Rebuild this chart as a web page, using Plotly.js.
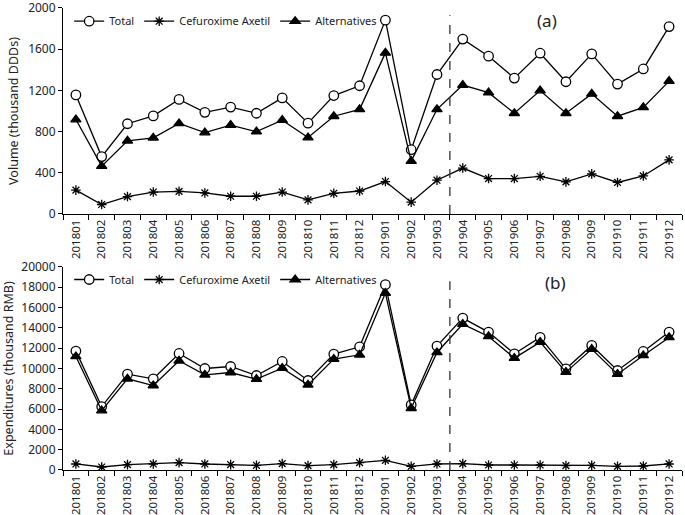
<!DOCTYPE html>
<html><head><meta charset="utf-8">
<script src="https://cdn.plot.ly/plotly-3.0.1.min.js"></script>
<style>body{margin:0;padding:0;background:#fff}#c{width:685px;height:515px}</style>
</head><body><div id="c"></div>
<script>
const months = ["201801","201802","201803","201804","201805","201806","201807","201808","201809","201810","201811","201812",
"201901","201902","201903","201904","201905","201906","201907","201908","201909","201910","201911","201912"];
const volTotal = [1156,557,876,952,1112,987,1038,978,1127,882,1150,1245,1882,624,1354,1698,1532,1319,1561,1284,1554,1261,1408,1819];
const volCef = [232,92,169,213,220,204,172,172,213,137,201,223,315,115,328,446,344,344,366,312,389,306,369,525];
const volAlt = [917,465,710,739,879,790,863,799,911,742,949,1016,1564,513,1016,1252,1178,978,1198,978,1166,949,1035,1290];
const expTotal = [11711,6250,9441,8980,11480,10000,10197,9310,10691,8816,11414,12138,18257,6414,12204,14967,13586,11447,13059,9967,12270,9803,11678,13586];
const expCef = [592,296,526,592,724,592,526,461,625,428,526,724,954,362,592,625,493,493,493,428,461,362,395,592];
const expAlt = [11184,5855,8980,8322,10757,9375,9605,8947,10033,8388,10921,11349,17434,6085,11579,14375,13158,11020,12599,9638,11908,9441,11283,13059];
const seriesNames = ["Total","Cefuroxime Axetil","Alternatives"];

const FONT = "Noto Sans, DejaVu Sans, sans-serif";
function mk(y, name, sym, xa, ya, leg){
  return {x: months, y: y, name: name, type:'scatter', mode:'lines+markers', xaxis:xa, yaxis:ya, legend:leg,
    line:{color:'#000', width:1.3},
    marker:{symbol:sym, size:(sym==='circle'?9.5:(sym==='asterisk-open'?8:9)), color: sym==='circle'?'#fff':'#000',
      line:{color:'#000', width:1.3}}};
}
const data = [
  mk(volTotal, seriesNames[0], 'circle', 'x','y','legend'),
  mk(volCef, seriesNames[1], 'asterisk-open', 'x','y','legend'),
  mk(volAlt, seriesNames[2], 'triangle-up', 'x','y','legend'),
  mk(expTotal, seriesNames[0], 'circle', 'x2','y2','legend2'),
  mk(expCef, seriesNames[1], 'asterisk-open', 'x2','y2','legend2'),
  mk(expAlt, seriesNames[2], 'triangle-up', 'x2','y2','legend2')
];

const xax = (anchor)=>({domain:[0,1], anchor:anchor, type:'category', tickangle:-90, showline:true, linecolor:'#000', linewidth:1,
  ticks:'outside', tickson:'boundaries', ticklen:5, tickcolor:'#000', showgrid:false, zeroline:false,
  tickfont:{family:FONT, size:11.5, color:'#222'}, range:[-0.5,23.5]});
const yax = (dom, anchor, rng, dt, title)=>({domain:dom, anchor:anchor, range:rng, dtick:dt, tickformat:'d', showline:true, linecolor:'#000', linewidth:1,
  ticks:'outside', ticklen:4, tickcolor:'#000', showgrid:false, zeroline:false, ticklabeloverflow:'allow',
  tickfont:{family:FONT, size:12, color:'#222'}, title:{text:title, font:{family:FONT, size:12.5, color:'#222'}, standoff:6}});

const legFont = {family:FONT, size:11, color:'#222'};
const layout = {
  width:685, height:515, margin:{l:63, r:3, t:0, b:0}, paper_bgcolor:'#fff', plot_bgcolor:'#fff',
  font:{family:FONT, color:'#222'},
  xaxis: xax('y'), yaxis: yax([0.5845,0.9845],'x',[0,2000],400,'Volume (thousand DDDs)'),
  xaxis2: xax('y2'), yaxis2: yax([0.0874,0.4816],'x2',[0,20000],2000,'Expenditures (thousand RMB)'),
  legend:{orientation:'h', x:0.01, y:0.987, xanchor:'left', yanchor:'top', font:legFont, bgcolor:'rgba(0,0,0,0)', itemwidth:30, tracegroupgap:0},
  legend2:{orientation:'h', x:0.01, y:0.4854, xanchor:'left', yanchor:'top', font:legFont, bgcolor:'rgba(0,0,0,0)', itemwidth:30, tracegroupgap:0},
  shapes:[
    {type:'line', xref:'x', yref:'y', x0:14.5, x1:14.5, y0:0, y1:1930, line:{color:'#333', width:1.3, dash:'dash'}},
    {type:'line', xref:'x2', yref:'y2', x0:14.5, x1:14.5, y0:0, y1:18600, line:{color:'#333', width:1.3, dash:'dash'}}
  ],
  annotations:[
    {text:'(a)', xref:'paper', yref:'paper', x:0.782, y:0.961, yanchor:'middle', xanchor:'center', showarrow:false, font:{family:FONT, size:17, color:'#222'}},
    {text:'(b)', xref:'paper', yref:'paper', x:0.795, y:0.452, yanchor:'middle', xanchor:'center', showarrow:false, font:{family:FONT, size:17, color:'#222'}}
  ]
};
Plotly.newPlot('c', data, layout, {displayModeBar:false, staticPlot:true});
</script></body></html>
